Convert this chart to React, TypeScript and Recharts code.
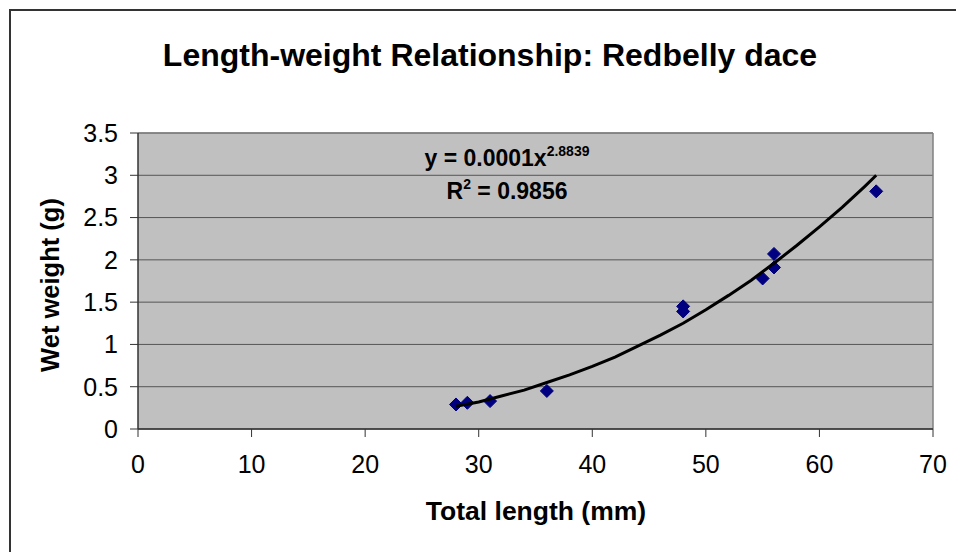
import React from "react";
import {
  ScatterChart,
  Scatter,
  XAxis,
  YAxis,
  CartesianGrid,
  ReferenceLine,
} from "recharts";

// Observed fish: total length (mm) and wet weight (g)
const lengthsMm = [28, 29, 31, 36, 48, 48, 55, 56, 56, 65];
const weightsG = [0.29, 0.31, 0.33, 0.45, 1.45, 1.39, 1.78, 2.07, 1.91, 2.81];

// Power trend line
const trendX = [28, 30, 32, 34, 36, 38, 40, 42, 44, 46, 48, 50, 52, 54, 56, 58, 60, 62, 64, 65];
const trendY = [0.27, 0.32, 0.39, 0.46, 0.55, 0.64, 0.74, 0.85, 0.98, 1.11, 1.25, 1.41, 1.58, 1.76, 1.96, 2.17, 2.39, 2.62, 2.87, 3.0];

const xTicks = [0, 10, 20, 30, 40, 50, 60, 70];
const yTicks = [0, 0.5, 1, 1.5, 2, 2.5, 3, 3.5];

const points = lengthsMm.map((x, i) => ({ x, y: weightsG[i] }));
const trend = trendX.map((x, i) => ({ x, y: trendY[i] }));

const W = 956;
const H = 552;
const FONT = '"Liberation Sans", Arial, sans-serif';

const Diamond = (props: any) => {
  const { cx, cy } = props;
  if (cx == null || cy == null) return null;
  const r = 6.5;
  return (
    <path
      d={`M${cx},${cy - r} L${cx + r},${cy} L${cx},${cy + r} L${cx - r},${cy} Z`}
      fill="#000080"
      stroke="#000080"
      strokeWidth={1}
    />
  );
};

const NoDot = () => <g />;

export default function App() {
  return (
    <div style={{ position: "absolute", left: 0, top: 0, width: W, height: H, background: "#fff" }}>
      <ScatterChart
        width={W}
        height={H}
        margin={{ top: 133, right: 23, bottom: 83, left: 0 }}
      >
        <CartesianGrid
          horizontal={true}
          vertical={false}
          stroke="#555"
          strokeWidth={1}
          fill="#C0C0C0"
          fillOpacity={1}
        />
        <XAxis
          type="number"
          dataKey="x"
          domain={[0, 70]}
          ticks={xTicks}
          interval={0}
          height={40}
          tickSize={8}
          tickMargin={18}
          axisLine={{ stroke: "#333", strokeWidth: 1.5 }}
          tickLine={{ stroke: "#333" }}
          tick={{ fill: "#000", fontSize: 25, fontFamily: FONT }}
          allowDataOverflow
        />
        <YAxis
          type="number"
          dataKey="y"
          domain={[0, 3.5]}
          ticks={yTicks}
          interval={0}
          width={138}
          tickSize={8}
          tickMargin={12}
          axisLine={{ stroke: "#333", strokeWidth: 1.5 }}
          tickLine={{ stroke: "#333" }}
          tick={{ fill: "#000", fontSize: 25, fontFamily: FONT }}
          allowDataOverflow
        />
        <ReferenceLine x={70} stroke="#808080" strokeWidth={1.5} />
        <ReferenceLine y={3.5} stroke="#808080" strokeWidth={1.5} />
        <Scatter
          data={points}
          shape={<Diamond />}
          isAnimationActive={false}
        />
        <Scatter
          data={trend}
          line={{ stroke: "#000", strokeWidth: 3 }}
          lineType="joint"
          shape={<NoDot />}
          isAnimationActive={false}
        />
      </ScatterChart>
      <svg
        width={W}
        height={H}
        style={{ position: "absolute", left: 0, top: 0, pointerEvents: "none" }}
      >
        <rect x={10} y={10} width={980} height={600} fill="none" stroke="#333" strokeWidth={2} />
        <text
          x={490}
          y={66}
          textAnchor="middle"
          fontFamily={FONT}
          fontWeight="bold"
          fontSize={32}
          fill="#000"
        >
          Length-weight Relationship: Redbelly dace
        </text>
        <text
          x={536}
          y={520}
          textAnchor="middle"
          fontFamily={FONT}
          fontWeight="bold"
          fontSize={26.5}
          fill="#000"
        >
          Total length (mm)
        </text>
        <text
          x={59}
          y={285}
          transform="rotate(-90 59 285)"
          textAnchor="middle"
          fontFamily={FONT}
          fontWeight="bold"
          fontSize={25.5}
          fill="#000"
        >
          Wet weight (g)
        </text>
        <text x={507} y={166} textAnchor="middle" fontFamily={FONT} fontWeight="bold" fontSize={23} fill="#000">
          y = 0.0001x
          <tspan fontSize={14} dy={-10}>2.8839</tspan>
        </text>
        <text x={507} y={199} textAnchor="middle" fontFamily={FONT} fontWeight="bold" fontSize={23} fill="#000">
          R
          <tspan fontSize={14} dy={-10}>2</tspan>
          <tspan dy={10}> = 0.9856</tspan>
        </text>
      </svg>
    </div>
  );
}
